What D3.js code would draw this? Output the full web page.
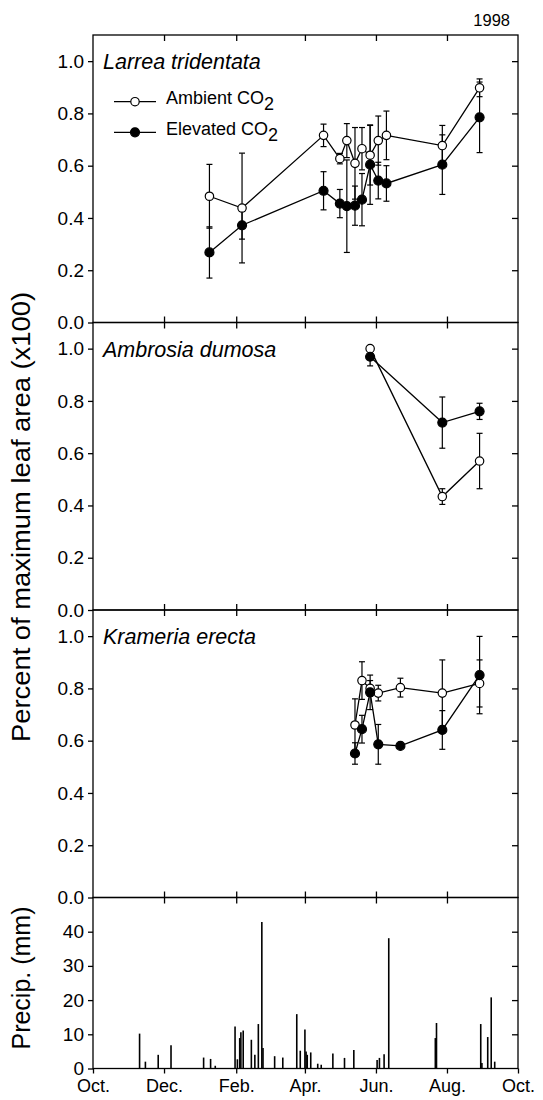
<!DOCTYPE html>
<html>
<head>
<meta charset="utf-8">
<script src="https://cdn.jsdelivr.net/npm/d3@7"></script>
<style>
  html, body { margin: 0; padding: 0; background: #fff; }
  svg { display: block; }
  text { font-family: "Liberation Sans", Arial, Helvetica, sans-serif; fill: #000; }
</style>
</head>
<body>
<svg id="chart" width="543" height="1100"></svg>
<script>
// ---------------- DATA ----------------
const xTickDates = ["1997-10-01","1997-12-01","1998-02-01","1998-04-01","1998-06-01","1998-08-01","1998-10-01"];
const xTickLabels = ["Oct.","Dec.","Feb.","Apr.","Jun.","Aug.","Oct."];
const leafTicks = [0.0, 0.2, 0.4, 0.6, 0.8, 1.0];
const precipTicks = [0, 10, 20, 30, 40];

const larreaDates = ["1998-01-09","1998-02-06","1998-04-17","1998-05-01","1998-05-07","1998-05-14","1998-05-20","1998-05-27","1998-06-03","1998-06-10","1998-07-28","1998-08-29"];
const larreaAmb    = [0.483,0.438,0.716,0.627,0.696,0.609,0.665,0.640,0.696,0.716,0.677,0.898];
const larreaAmbSE  = [0.122,0.210,0.043,0.020,0.065,0.137,0.081,0.114,0.094,0.093,0.077,0.034];
const larreaElev   = [0.268,0.372,0.504,0.455,0.445,0.447,0.470,0.604,0.543,0.532,0.604,0.785];
const larreaElevSE = [0.098,0.053,0.073,0.054,0.177,0.075,0.100,0.152,0.070,0.068,0.114,0.135];

const ambrosiaDates  = ["1998-05-27","1998-07-28","1998-08-29"];
const ambrosiaAmb    = [1.000,0.434,0.570];
const ambrosiaAmbSE  = [0.010,0.030,0.106];
const ambrosiaElev   = [0.969,0.717,0.760];
const ambrosiaElevSE = [0.035,0.098,0.031];

const krameriaDates  = ["1998-05-14","1998-05-20","1998-05-27","1998-06-03","1998-06-22","1998-07-28","1998-08-29"];
const krameriaAmb    = [0.660,0.830,0.800,0.782,0.803,0.782,0.819];
const krameriaAmbSE  = [0.100,0.072,0.030,0.030,0.036,0.127,0.090];
const krameriaElev   = [0.551,0.644,0.785,0.586,0.580,0.641,0.851];
const krameriaElevSE = [0.041,0.053,0.066,0.076,0.000,0.074,0.148];

const precipDates = ["1997-11-10","1997-11-15","1997-11-26","1997-12-07","1998-01-04","1998-01-10","1998-01-14","1998-01-31","1998-02-02","1998-02-04","1998-02-05","1998-02-07","1998-02-14","1998-02-17","1998-02-20","1998-02-23","1998-02-24","1998-03-06","1998-03-13","1998-03-25","1998-03-28","1998-04-01","1998-04-02","1998-04-03","1998-04-06","1998-04-12","1998-04-15","1998-04-25","1998-05-05","1998-05-13","1998-06-02","1998-06-04","1998-06-08","1998-06-12","1998-07-22","1998-07-23","1998-08-30","1998-08-31","1998-09-05","1998-09-08","1998-09-11"];
const precipMM    = [10.2,2.0,4.0,6.8,3.2,2.8,0.8,12.3,2.7,8.9,10.6,11.1,8.4,4.0,13.0,42.8,6.0,3.6,3.2,15.9,5.2,11.4,5.0,4.0,4.7,1.4,1.1,4.4,3.1,5.4,2.5,3.1,4.2,38.1,8.9,13.3,13.0,1.6,9.2,20.8,2.0];

const speciesNames = ["Larrea tridentata","Ambrosia dumosa","Krameria erecta"];
const seriesNames = ["Ambient CO","Elevated CO"];

// ---------------- LAYOUT ----------------
const svg = d3.select("#chart");
svg.append("rect").attr("width",543).attr("height",1100).attr("fill","#fff");

const L = 93, R = 518;
const panelTops = [35, 322.5, 610, 897.5];
const panelBottoms = [322.5, 610, 897.5, 1068.5];
const parse = d3.utcParse("%Y-%m-%d");

const x = d3.scaleUtc()
  .domain([parse("1997-10-01"), parse("1998-10-01")])
  .range([L, R]);
const xTicks = xTickDates.map(parse);

const speciesData = [
  {dates: larreaDates, amb: larreaAmb, ambSE: larreaAmbSE, elev: larreaElev, elevSE: larreaElevSE},
  {dates: ambrosiaDates, amb: ambrosiaAmb, ambSE: ambrosiaAmbSE, elev: ambrosiaElev, elevSE: ambrosiaElevSE},
  {dates: krameriaDates, amb: krameriaAmb, ambSE: krameriaAmbSE, elev: krameriaElev, elevSE: krameriaElevSE}
];

const SW = 1.3;
function styleAxis(g) {
  g.selectAll("path.domain").remove();
  g.selectAll("line").attr("stroke","#000").attr("stroke-width",SW);
}

function drawFrame(top, bottom, y, ticks, fmt, bottomOutward) {
  const gl = svg.append("g").attr("transform",`translate(${L},0)`)
    .call(d3.axisLeft(y).tickValues(ticks).tickSize(5).tickPadding(4).tickFormat(fmt));
  styleAxis(gl);
  gl.selectAll("text").attr("font-size",19).attr("font-family","'Liberation Sans', Arial, sans-serif");
  const gr = svg.append("g").attr("transform",`translate(${R},0)`)
    .call(d3.axisLeft(y).tickValues(ticks.filter(t => y(t) < bottom - 1 && y(t) > top + 1)).tickSize(6).tickFormat(""));
  styleAxis(gr);
  const gt = svg.append("g").attr("transform",`translate(0,${top})`)
    .call(d3.axisBottom(x).tickValues(xTicks.slice(1,-1)).tickSize(6).tickFormat(""));
  styleAxis(gt);
  if (!bottomOutward) {
    const gb = svg.append("g").attr("transform",`translate(0,${bottom})`)
      .call(d3.axisTop(x).tickValues(xTicks.slice(1,-1)).tickSize(6).tickFormat(""));
    styleAxis(gb);
  } else {
    const gb = svg.append("g").attr("transform",`translate(0,${bottom})`)
      .call(d3.axisBottom(x).tickValues(xTicks).tickSize(5).tickPadding(6).tickFormat((d,i) => xTickLabels[i]));
    styleAxis(gb);
    gb.selectAll("text").attr("font-size",18).attr("font-family","'Liberation Sans', Arial, sans-serif");
  }
  svg.append("rect").attr("x",L).attr("y",top).attr("width",R-L).attr("height",bottom-top)
    .attr("fill","none").attr("stroke","#000").attr("stroke-width",SW);
}

const fmtLeaf = d3.format(".1f");

speciesData.forEach((sp, k) => {
  const top = panelTops[k], bottom = panelBottoms[k];
  const y = d3.scaleLinear().domain([0, 1.1]).range([bottom, top]);
  drawFrame(top, bottom, y, leafTicks, fmtLeaf, false);

  const dates = sp.dates.map(parse);
  const series = [
    {vals: sp.amb, se: sp.ambSE, fill: "#fff", r: 4.2},
    {vals: sp.elev, se: sp.elevSE, fill: "#000", r: 4.5}
  ];
  const line = d3.line().x(d => x(d[0])).y(d => y(d[1]));
  const g = svg.append("g");
  series.forEach(s => {
    g.append("path").datum(dates.map((d,i) => [d, s.vals[i]]))
      .attr("d", line).attr("fill","none").attr("stroke","#000").attr("stroke-width",1.3);
  });
  series.forEach(s => {
    dates.forEach((d,i) => {
      if (s.se[i] <= 0) return;
      const cx = x(d), y1 = y(s.vals[i] + s.se[i]), y2 = y(s.vals[i] - s.se[i]);
      g.append("line").attr("x1",cx).attr("x2",cx).attr("y1",y1).attr("y2",y2)
        .attr("stroke","#000").attr("stroke-width",1.2);
      [y1,y2].forEach(yy => g.append("line").attr("x1",cx-3).attr("x2",cx+3).attr("y1",yy).attr("y2",yy)
        .attr("stroke","#000").attr("stroke-width",1.2));
    });
  });
  series.forEach(s => {
    g.selectAll(null).data(dates.map((d,i) => [d, s.vals[i]])).enter().append("circle")
      .attr("cx", d => x(d[0])).attr("cy", d => y(d[1])).attr("r", s.r)
      .attr("fill", s.fill).attr("stroke","#000").attr("stroke-width",1.2);
  });

  svg.append("text").attr("x", 103).attr("y", top + 34)
    .attr("font-size", 21.5).attr("font-style","italic").text(speciesNames[k]);
});

// legend in first panel
const legY = [101.7, 132.3];
const legFill = ["#fff", "#000"];
legY.forEach((ly, i) => {
  svg.append("line").attr("x1",114).attr("x2",156).attr("y1",ly).attr("y2",ly)
    .attr("stroke","#000").attr("stroke-width",1.3);
  svg.append("circle").attr("cx",135).attr("cy",ly).attr("r", i ? 4.5 : 4.2)
    .attr("fill",legFill[i]).attr("stroke","#000").attr("stroke-width",1.2);
  const t = svg.append("text").attr("x",166).attr("y",ly + 2.5).attr("font-size",18);
  t.append("tspan").text(seriesNames[i]);
  t.append("tspan").attr("dy",6).text("2");
});

// precipitation panel
{
  const top = panelTops[3], bottom = panelBottoms[3];
  const y = d3.scaleLinear().domain([0, 50]).range([bottom, top]);
  drawFrame(top, bottom, y, precipTicks, d3.format("d"), true);
  const pd = precipDates.map((d,i) => [parse(d), precipMM[i]]);
  svg.append("g").selectAll("line").data(pd).enter().append("line")
    .attr("x1", d => x(d[0])).attr("x2", d => x(d[0]))
    .attr("y1", y(0)).attr("y2", d => y(d[1]))
    .attr("stroke","#000").attr("stroke-width",1.6);
}

// titles
svg.append("text").attr("transform","translate(30,517) rotate(-90)")
  .attr("text-anchor","middle").attr("font-size",25)
  .attr("textLength",450).attr("lengthAdjust","spacingAndGlyphs")
  .text("Percent of maximum leaf area (x100)");
svg.append("text").attr("transform","translate(30,978) rotate(-90)")
  .attr("text-anchor","middle").attr("font-size",25).text("Precip. (mm)");
svg.append("text").attr("x",510).attr("y",26).attr("text-anchor","end")
  .attr("font-size",16.5).text("1998");
</script>
</body>
</html>
